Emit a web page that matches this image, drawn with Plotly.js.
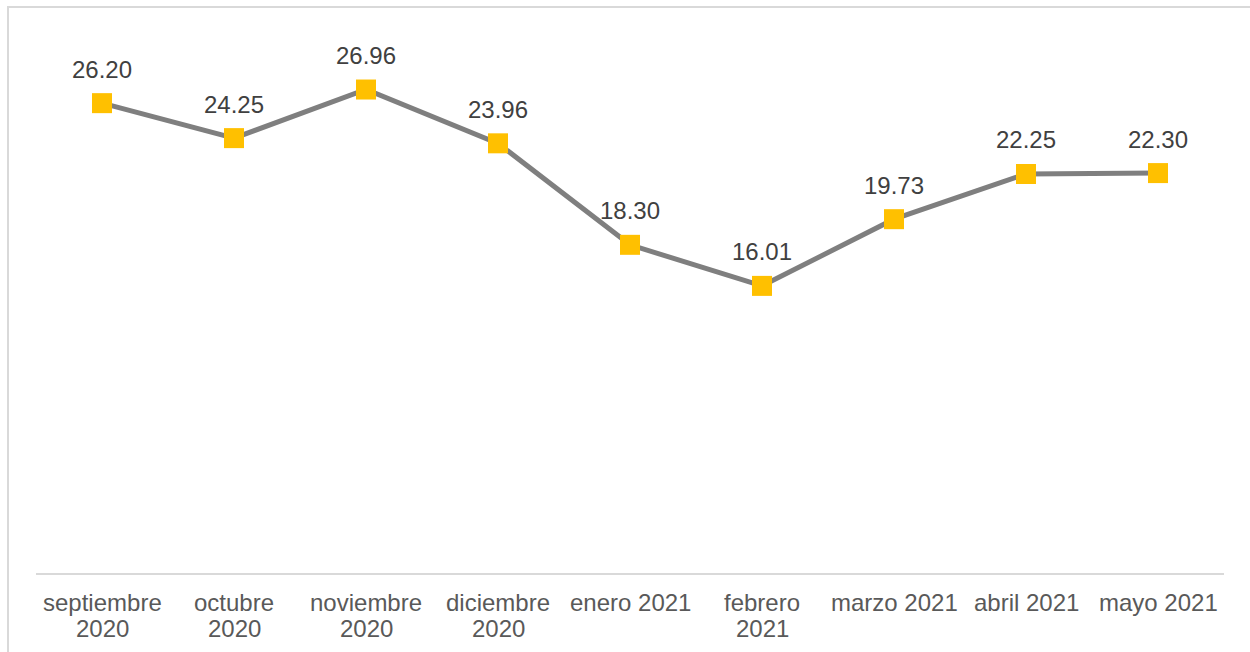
<!DOCTYPE html>
<html>
<head>
<meta charset="utf-8">
<script src="https://cdn.plot.ly/plotly-3.0.1.min.js"></script>
<style>
html,body{margin:0;padding:0;background:#fff;}
#wrap{position:relative;width:1250px;height:652px;overflow:hidden;}
#frame{position:absolute;left:7px;top:6px;width:1260px;height:700px;border:2px solid #d9d9d9;box-sizing:border-box;}
#chart{position:absolute;left:0;top:0;width:1250px;height:652px;}
</style>
</head>
<body>
<div id="wrap">
<div id="frame"></div>
<div id="chart"></div>
</div>
<script>
const categories = ["septiembre 2020","octubre 2020","noviembre 2020","diciembre 2020","enero 2021","febrero 2021","marzo 2021","abril 2021","mayo 2021"];
const tickLine1 = ["septiembre","octubre","noviembre","diciembre","enero 2021","febrero","marzo 2021","abril 2021","mayo 2021"];
const tickLine2 = ["2020","2020","2020","2020","","2021","","",""];
const values = [26.20, 24.25, 26.96, 23.96, 18.30, 16.01, 19.73, 22.25, 22.30];
const labels = values.map(v => v.toFixed(2));

const FONT = 'Liberation Sans, Arial, sans-serif';

const trace = {
  x: categories,
  y: values,
  type: 'scatter',
  mode: 'lines+markers',
  line: {color: '#7f7f7f', width: 5},
  marker: {symbol: 'square', size: 20, color: '#FFC000', line: {width: 0}},
  cliponaxis: false,
  hoverinfo: 'skip'
};

const annotations = [];
categories.forEach((c, i) => {
  annotations.push({x: c, y: values[i], xref: 'x', yref: 'y', text: labels[i], showarrow: false,
    yanchor: 'middle', yshift: 34, font: {family: FONT, size: 24, color: '#404040'}});
  annotations.push({x: c, y: 0, xref: 'x', yref: 'paper', text: tickLine1[i], showarrow: false,
    yanchor: 'middle', yshift: -29, font: {family: FONT, size: 24, color: '#595959'}});
  if (tickLine2[i]) annotations.push({x: c, y: 0, xref: 'x', yref: 'paper', text: tickLine2[i], showarrow: false,
    yanchor: 'middle', yshift: -55.5, font: {family: FONT, size: 24, color: '#595959'}});
});

const layout = {
  width: 1250, height: 652,
  margin: {l: 36, r: 26, t: 35, b: 79},
  paper_bgcolor: 'rgba(0,0,0,0)',
  plot_bgcolor: 'rgba(0,0,0,0)',
  showlegend: false,
  font: {family: FONT, size: 24, color: '#595959'},
  annotations: annotations,
  xaxis: {
    type: 'category', range: [-0.5, 8.5],
    showline: true, linecolor: '#d9d9d9', linewidth: 2,
    showgrid: false, zeroline: false, ticks: '', showticklabels: false,
    fixedrange: true
  },
  yaxis: {
    range: [0, 30], visible: false, showgrid: false, zeroline: false, fixedrange: true
  }
};

Plotly.newPlot('chart', [trace], layout, {staticPlot: true, displayModeBar: false});
</script>
</body>
</html>
